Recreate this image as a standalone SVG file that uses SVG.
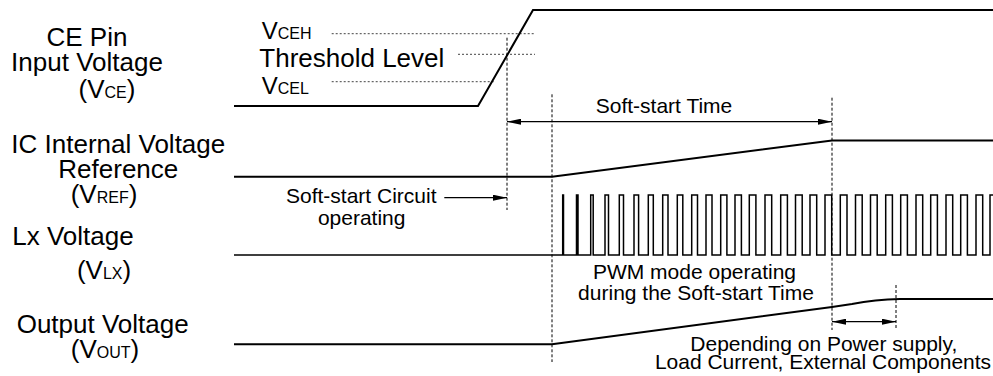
<svg xmlns="http://www.w3.org/2000/svg" width="993" height="376" viewBox="0 0 993 376">
<style>
text{font-family:"Liberation Sans",Arial,sans-serif;fill:#000}
.lbl{font-size:26px;text-anchor:middle}
.sub{font-size:16px}
.mid{font-size:21px}
.wave{fill:none;stroke:#000;stroke-width:2;stroke-linejoin:miter}
.pwm{fill:none;stroke:#000;stroke-width:1.5}
.dot{stroke:#444;stroke-width:1;stroke-dasharray:2 2;fill:none}
.vdash{stroke:#000;stroke-width:1;stroke-dasharray:3 2;fill:none}
.arr{stroke:#000;stroke-width:1.2;fill:none}
</style>
<defs>
<marker id="ah" viewBox="0 0 14 6" refX="14" refY="3" markerWidth="14" markerHeight="6" markerUnits="userSpaceOnUse" orient="auto-start-reverse">
<path d="M0,0 L14,3 L0,6 z" fill="#000"/>
</marker>
</defs>
<rect width="993" height="376" fill="#fff"/>

<g id="labels">
<text class="lbl" x="87" y="45.7">CE Pin</text>
<text class="lbl" x="87" y="70.7">Input Voltage</text>
<text class="lbl" x="107" y="97.5">(V<tspan class="sub">CE</tspan>)</text>
<text class="lbl" x="118.3" y="152.7">IC Internal Voltage</text>
<text class="lbl" x="118.3" y="178.3">Reference</text>
<text class="lbl" x="104" y="203.3">(V<tspan class="sub">REF</tspan>)</text>
<text class="lbl" x="73" y="245">Lx Voltage</text>
<text class="lbl" x="104" y="279.3">(V<tspan class="sub">LX</tspan>)</text>
<text class="lbl" x="102.7" y="332.7">Output Voltage</text>
<text class="lbl" x="105" y="358.3">(V<tspan class="sub">OUT</tspan>)</text>
</g>

<g id="ce-levels">
<text x="261.7" y="39.3" style="font-size:24px">V<tspan class="sub">CEH</tspan></text>
<text x="259.3" y="66.7" style="font-size:26px">Threshold Level</text>
<text x="261.7" y="94.3" style="font-size:24px">V<tspan class="sub">CEL</tspan></text>
<line class="dot" x1="331.7" y1="33.7" x2="535" y2="33.7"/>
<line class="dot" x1="458" y1="54.3" x2="535" y2="54.3"/>
<line class="dot" x1="331.7" y1="81.7" x2="495" y2="81.7"/>
</g>

<g id="vce">
<polyline class="wave" points="234,106 478,106 533,10 993,10"/>
</g>
<g id="vref">
<polyline class="wave" points="234,176.7 552,176.7 832,140.5 993,140.5"/>
</g>
<g id="vlx">
<path class="pwm" d="M234,255 H562.7 V195 H563.5 V255 H576.5 V195 H578 V255 H590.7 V195 H593.2 V255 H605 V195 H608.5 V255 H619.3 V195 H623.5 V255 H634 V195 H638.6 V255 H648.3 V195 H653.3 V255 H662.7 V195 H668 V255 H677.3 V195 H682.8 V255 H691.7 V195 H697.5 V255 H706 V195 H712 V255 H720.7 V195 H726.9 V255 H735 V195 H741.4 V255 H749.3 V195 H755.9 V255 H765 V195 H771.7 V255 H780.7 V195 H787.4 V255 H795.5 V195 H802.2 V255 H810 V195 H816.7 V255 H825 V195 H831.7 V255 H840.3 V195 H847 V255 H855.5 V195 H862.2 V255 H870.5 V195 H877.2 V255 H885.7 V195 H892.4 V255 H900.7 V195 H907.4 V255 H916 V195 H922.7 V255 H930.7 V195 H937.4 V255 H946 V195 H952.7 V255 H960.7 V195 H967.4 V255 H976 V195 H982.7 V255 H990 V195 H994"/>
</g>
<g id="vout">
<path class="wave" d="M234,344.3 H552 L832,307 L852,304 Q875,299.5 900,299 H993"/>
</g>

<g id="connectors">
<line class="vdash" x1="507" y1="37.7" x2="507" y2="210"/>
<line class="vdash" x1="552" y1="94.3" x2="552" y2="362"/>
<line class="vdash" x1="832" y1="97.7" x2="832" y2="330"/>
<line class="vdash" x1="896" y1="285" x2="896" y2="330"/>
<line class="arr" x1="507" y1="121.7" x2="832" y2="121.7" marker-start="url(#ah)" marker-end="url(#ah)"/>
<line class="arr" x1="444.3" y1="197.7" x2="507" y2="197.7" marker-end="url(#ah)"/>
<line class="arr" x1="832" y1="321.7" x2="896" y2="321.7" marker-start="url(#ah)" marker-end="url(#ah)"/>
</g>

<g id="annotations">
<text class="mid" x="664" y="113.3" text-anchor="middle">Soft-start Time</text>
<text class="mid" x="286" y="203.3">Soft-start Circuit</text>
<text class="mid" x="361.7" y="225" text-anchor="middle">operating</text>
<text class="mid" x="694.5" y="279.3" text-anchor="middle">PWM mode operating</text>
<text class="mid" x="696" y="300" text-anchor="middle">during the Soft-start Time</text>
<text class="mid" x="823.8" y="351" text-anchor="middle">Depending on Power supply,</text>
<text class="mid" x="823" y="369.3" text-anchor="middle">Load Current, External Components</text>
</g>
</svg>
